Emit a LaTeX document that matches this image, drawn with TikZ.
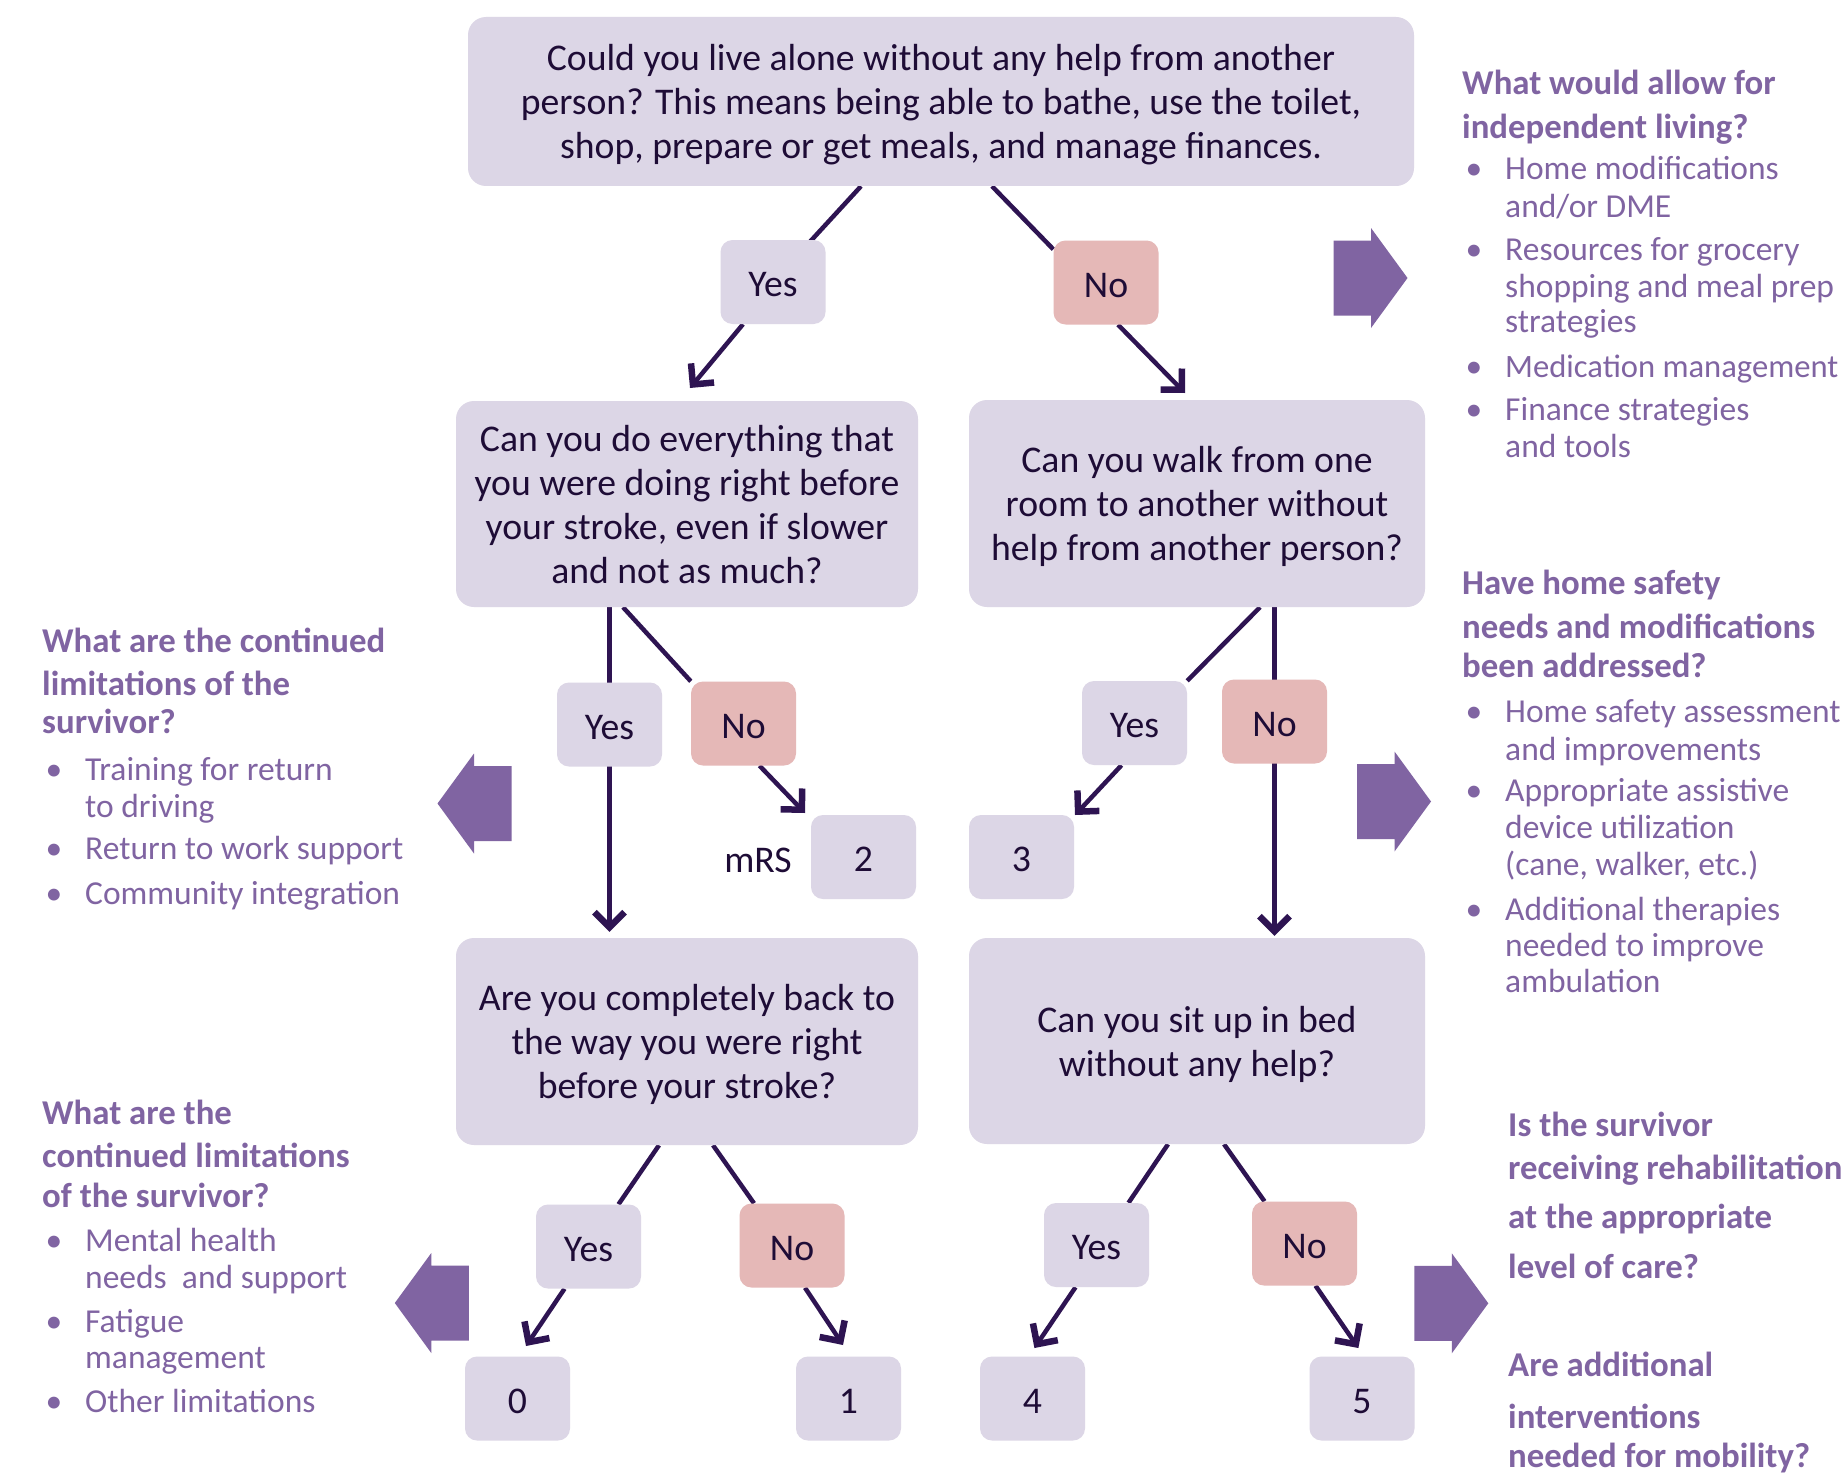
\documentclass[tikz,border=0pt]{standalone}
\usepackage{fontspec}
\setmainfont{Carlito}
\usetikzlibrary{arrows.meta,backgrounds,calc}
\definecolor{boxfill}{HTML}{DCD6E6}
\definecolor{nofill}{HTML}{E5B8B7}
\definecolor{inkc}{HTML}{1E0C36}
\definecolor{linec}{HTML}{2E1452}
\definecolor{purp}{HTML}{8064A2}
\newcommand\tstr{\rule{0pt}{38pt}}
\newcommand\bstr{\rule[-12pt]{0pt}{12pt}}
\newcommand\sstr{\rule[-6pt]{0pt}{41pt}}
\tikzset{
  bigbox/.style={fill=boxfill, rounded corners=18pt, inner sep=0pt, align=center, text=inkc, font=\fontsize{37.7}{44}\selectfont},
  smallbox/.style={fill=boxfill, rounded corners=12pt, minimum width=105pt, minimum height=84pt, inner sep=0pt, text=inkc, font=\fontsize{37.7}{44}\selectfont, execute at begin node=\sstr},
  nobox/.style={smallbox, fill=nofill},
  conn/.style={draw=linec, line width=4.5pt},
  arr/.style={conn, -{Straight Barb[length=15pt,width=30pt,line width'=6.5pt,sharp]}},
  sidehead/.style={anchor=base west, inner sep=0pt, text=purp, font=\fontsize{34.8}{42}\selectfont\bfseries},
  sidetext/.style={anchor=base west, inner sep=0pt, text=purp, font=\fontsize{33.5}{37}\selectfont},
  bul/.style={anchor=base, inner sep=0pt, text=purp, font=\fontsize{33.5}{37}\selectfont},
  rblock/.pic={\fill[purp] (0,-37.5) -- (37.5,-37.5) -- (37.5,-50) -- (74,0) -- (37.5,50) -- (37.5,37.5) -- (0,37.5) -- cycle;},
  lblock/.pic={\fill[purp] (0,-37.5) -- (-37.5,-37.5) -- (-37.5,-50) -- (-74,0) -- (-37.5,50) -- (-37.5,37.5) -- (0,37.5) -- cycle;}
}
\begin{document}
\begin{tikzpicture}[x=1pt,y=-1pt]
\useasboundingbox (0,0) rectangle (1843,1474);

% ---------- question boxes ----------
\node[bigbox, minimum width=946pt, minimum height=169pt] (q1) at (941,101.5)
  {\tstr Could you live alone without any help from another\\person? This means being able to bathe, use the toilet,\\shop, prepare or get meals, and manage finances.\bstr};
\node[smallbox] (y1) at (773,282) {Yes};
\node[nobox] (n1) at (1106,282.5) {No};

\node[bigbox, minimum width=462pt, minimum height=206pt] (qA) at (687,504)
  {\tstr Can you do everything that\\you were doing right before\\your stroke, even if slower\\and not as much?\bstr};
\node[bigbox, minimum width=456pt, minimum height=207pt] (qB) at (1197,503.5)
  {\tstr Can you walk from one\\room to another without\\help from another person?\bstr};

\node[smallbox] (y2) at (609.5,724.5) {Yes};
\node[nobox] (n2) at (743.5,723.5) {No};
\node[smallbox] (y3) at (1134.5,723) {Yes};
\node[nobox] (n3) at (1274.5,721.5) {No};

\node[inner sep=0pt, text=inkc, font=\fontsize{37.7}{44}\selectfont] (mrs) at (758,860.5) {mRS};
\node[smallbox] (r2) at (863.5,857) {2};
\node[smallbox] (r3) at (1021.5,857) {3};

\node[bigbox, minimum width=462pt, minimum height=207pt] (qC) at (687,1041.5)
  {\tstr Are you completely back to\\the way you were right\\before your stroke?\bstr};
\node[bigbox, minimum width=456pt, minimum height=206pt] (qD) at (1197,1041)
  {\tstr Can you sit up in bed\\without any help?\bstr};

\node[smallbox] (y4) at (588.5,1246.5) {Yes};
\node[nobox] (n4) at (792,1245.5) {No};
\node[smallbox] (y5) at (1096.5,1245) {Yes};
\node[nobox] (n5) at (1304.5,1243.5) {No};

\node[smallbox] (r0) at (517.5,1398.5) {0};
\node[smallbox] (r1) at (848.5,1398.5) {1};
\node[smallbox] (r4) at (1032.5,1398.5) {4};
\node[smallbox] (r5) at (1362,1398.5) {5};

% arrow tip coordinates
\coordinate (t1) at (690,388);
\coordinate (t2) at (1185,393);
\coordinate (t3) at (805,813);
\coordinate (t4) at (1075,815);
\coordinate (t5) at (526,1346);
\coordinate (t6) at (843,1345);
\coordinate (t7) at (1034.4,1348);
\coordinate (t8) at (1358.4,1348);

% ---------- connectors ----------
\begin{scope}[on background layer]
\fill[white] (0,0) rectangle (1843,1474);
\draw[conn] ([xshift=-80pt]q1.south) -- (y1.center);
\draw[conn] ([xshift=51pt]q1.south) -- ([yshift=-9pt]n1.north west);
\draw[arr] ([xshift=-30pt]y1.south) -- (t1);
\draw[arr] ([xshift=12pt]n1.south) -- (t2);

\draw[arr, shorten >=6pt] (qA.south -| y2) -- (qC.north -| y2);
\draw[conn] ([xshift=-64pt]qA.south) -- (n2.north west);
\draw[arr] ([xshift=16pt]n2.south) -- (t3);

\draw[conn] ([xshift=63pt]qB.south) -- (y3.north east);
\draw[arr, shorten >=2pt] (qB.south -| n3) -- (qD.north -| n3);
\draw[arr] ([xshift=-13pt]y3.south) -- (t4);

\draw[conn] ([xshift=-28pt]qC.south) -- ([xshift=30pt]y4.north);
\draw[conn] ([xshift=26pt]qC.south) -- ([xshift=-38pt]n4.north);
\draw[arr] ([xshift=-24pt]y4.south) -- (t5);
\draw[arr] ([xshift=13pt]n4.south) -- (t6);

\draw[conn] ([xshift=-29pt]qD.south) -- ([xshift=32pt]y5.north);
\draw[conn] ([xshift=27pt]qD.south) -- ([xshift=-40pt]n5.north);
\draw[arr] ([xshift=-21pt]y5.south) -- (t7);
\draw[arr] ([xshift=11pt]n5.south) -- (t8);
\end{scope}

% ---------- block arrows ----------
\pic at (1333.5,278) {rblock};
\pic at (511.5,803.5) {lblock};
\pic at (1357,801.5) {rblock};
\pic at (468.8,1303) {lblock};
\pic at (1414.3,1303.3) {rblock};

% ---------- right top text ----------
\node[sidehead] (rh1) at (1462,95) {What would allow for};
\node[sidehead] (rh2) at (1462,139) {independent living?};
\node[bul] (rb1) at (1474,180) {•};
\node[sidetext] (rt1) at (1505,180) {Home modifications};
\node[sidetext] (rt2) at (1505,217) {and/or DME};
\node[bul] (rb2) at (1474,260) {•};
\node[sidetext] (rt3) at (1505,260) {Resources for grocery};
\node[sidetext] (rt4) at (1505,297) {shopping and meal prep};
\node[sidetext] (rt5) at (1505,332) {strategies};
\node[bul] (rb3) at (1474,377) {•};
\node[sidetext, font=\fontsize{32.6}{37}\selectfont] (rt6) at (1505,377) {Medication management};
\node[bul] (rb4) at (1474,420) {•};
\node[sidetext] (rt7) at (1505,420) {Finance strategies};
\node[sidetext] (rt8) at (1505,457) {and tools};

% ---------- right middle text ----------
\node[sidehead] (mh1) at (1462,594) {Have home safety};
\node[sidehead] (mh2) at (1462,638) {needs and modifications};
\node[sidehead] (mh3) at (1462,677) {been addressed?};
\node[bul] (mb1) at (1474,722) {•};
\node[sidetext] (mt1) at (1505,722) {Home safety assessment};
\node[sidetext] (mt2) at (1505,760) {and improvements};
\node[bul] (mb2) at (1474,801) {•};
\node[sidetext] (mt3) at (1505,801) {Appropriate assistive};
\node[sidetext] (mt4) at (1505,838) {device utilization};
\node[sidetext] (mt5) at (1505,875) {(cane, walker, etc.)};
\node[bul] (mb3) at (1474,920) {•};
\node[sidetext] (mt6) at (1505,920) {Additional therapies};
\node[sidetext] (mt7) at (1505,956) {needed to improve};
\node[sidetext] (mt8) at (1505,992) {ambulation};

% ---------- right bottom text ----------
\node[sidehead] (bh1) at (1508,1136) {Is the survivor};
\node[sidehead] (bh2) at (1508,1179) {receiving rehabilitation};
\node[sidehead] (bh3) at (1508,1228) {at the appropriate};
\node[sidehead] (bh4) at (1508,1278) {level of care?};
\node[sidehead] (bh5) at (1508,1376) {Are additional};
\node[sidehead] (bh6) at (1508,1428) {interventions};
\node[sidehead] (bh7) at (1508,1467) {needed for mobility?};

% ---------- left top text ----------
\node[sidehead] (lh1) at (42,652) {What are the continued};
\node[sidehead] (lh2) at (42,695) {limitations of the};
\node[sidehead] (lh3) at (42,733) {survivor?};
\node[bul] (lb1) at (54,780) {•};
\node[sidetext] (lt1) at (85,780) {Training for return};
\node[sidetext] (lt2) at (85,817) {to driving};
\node[bul] (lb2) at (54,859) {•};
\node[sidetext] (lt3) at (85,859) {Return to work support};
\node[bul] (lb3) at (54,904) {•};
\node[sidetext] (lt4) at (85,904) {Community integration};

% ---------- left bottom text ----------
\node[sidehead] (kh1) at (42,1124) {What are the};
\node[sidehead] (kh2) at (42,1167) {continued limitations};
\node[sidehead] (kh3) at (42,1207) {of the survivor?};
\node[bul] (kb1) at (54,1251) {•};
\node[sidetext] (kt1) at (85,1251) {Mental health};
\node[sidetext] (kt2) at (85,1288) {needs\ \ and support};
\node[bul] (kb2) at (54,1332) {•};
\node[sidetext] (kt3) at (85,1332) {Fatigue};
\node[sidetext] (kt4) at (85,1368) {management};
\node[bul] (kb3) at (54,1412) {•};
\node[sidetext] (kt5) at (85,1412) {Other limitations};
\end{tikzpicture}
\end{document}
